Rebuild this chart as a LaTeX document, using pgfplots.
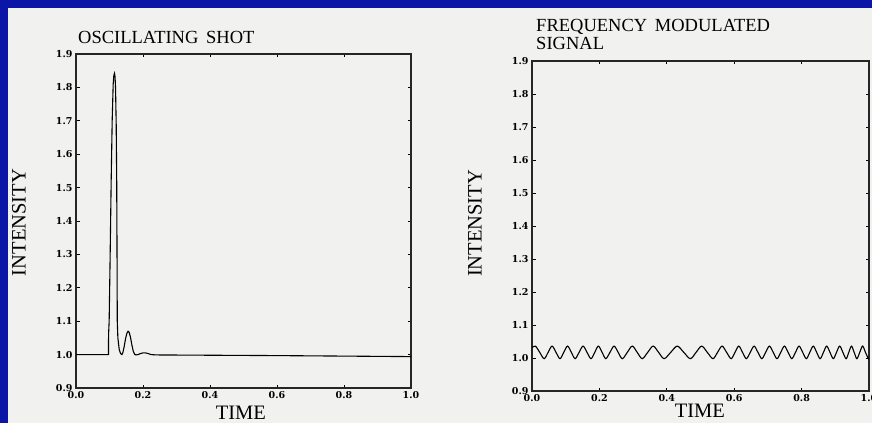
\documentclass[border=0pt]{standalone}
\usepackage{fontspec}
\setmainfont{Liberation Serif}
\newfontfamily\tickfamily{DejaVu Serif}
\usepackage{pgfplots}
\usepackage{pgfplotstable}
\pgfplotsset{compat=1.18}

\definecolor{slideblue}{RGB}{10,22,165}
\definecolor{paper}{RGB}{241,241,240}

% damped oscillating shot
\pgfplotstableread{
t I
0.0000 1.000
0.0970 1.000
0.0972 1.060
0.0990 1.100
0.1020 1.300
0.1050 1.520
0.1080 1.700
0.1110 1.810
0.1130 1.836
0.1150 1.842
0.1165 1.832
0.1180 1.800
0.1200 1.690
0.1215 1.520
0.1225 1.300
0.1232 1.100
0.1250 1.050
0.1290 1.015
0.1330 1.003
0.1370 1.000
0.1400 1.006
0.1440 1.025
0.1480 1.048
0.1520 1.064
0.1555 1.070
0.1590 1.066
0.1630 1.050
0.1670 1.028
0.1710 1.010
0.1750 1.001
0.1790 0.999
0.1850 1.000
0.1920 1.003
0.2000 1.005
0.2080 1.005
0.2160 1.003
0.2240 1.000
0.2400 0.999
0.6000 0.997
1.0000 0.994
}\shotdata

% frequency modulated signal
\pgfplotstableread{
t I
0.0000 1.031
0.0100 1.036
0.0230 1.017
0.0360 0.998
0.04775 1.017
0.0595 1.036
0.07125 1.017
0.0830 0.998
0.09425 1.017
0.1055 1.036
0.11675 1.017
0.1280 0.998
0.13975 1.017
0.1515 1.036
0.16325 1.017
0.1750 0.998
0.1860 1.017
0.1970 1.036
0.2080 1.017
0.2190 0.998
0.23125 1.017
0.2435 1.036
0.25575 1.017
0.2680 0.998
0.28275 1.017
0.2975 1.036
0.31225 1.017
0.3270 0.998
0.34325 1.017
0.3595 1.036
0.37575 1.017
0.3920 0.998
0.4115 1.017
0.4310 1.036
0.4505 1.017
0.4700 0.998
0.48675 1.017
0.5035 1.036
0.52025 1.017
0.5370 0.998
0.5505 1.017
0.5640 1.036
0.5775 1.017
0.5910 0.998
0.60225 1.017
0.6135 1.036
0.62475 1.017
0.6360 0.998
0.6475 1.017
0.6590 1.036
0.6705 1.017
0.6820 0.998
0.69325 1.017
0.7045 1.036
0.71575 1.017
0.7270 0.998
0.7380 1.017
0.7490 1.036
0.7600 1.017
0.7710 0.998
0.78175 1.017
0.7925 1.036
0.80325 1.017
0.8140 0.998
0.82425 1.017
0.8345 1.036
0.84475 1.017
0.8550 0.998
0.86475 1.017
0.8745 1.036
0.88425 1.017
0.8940 0.998
0.9035 1.017
0.9130 1.036
0.9225 1.017
0.9320 0.998
0.9400 1.017
0.9480 1.036
0.9560 1.017
0.9640 0.998
0.9725 1.017
0.9810 1.036
0.9895 1.017
0.9980 0.998
1.0000 0.9985
}\fmdata

\pgfplotsset{
  scanplot/.style={
    scale only axis,
    anchor=south west,
    clip mode=individual,
    xmin=0, xmax=1, ymin=0.9, ymax=1.9,
    xtick={0,0.2,0.4,0.6,0.8,1.0},
    ytick={0.9,1.0,1.1,1.2,1.3,1.4,1.5,1.6,1.7,1.8,1.9},
    tick align=inside,
    major tick length=3.5pt,
    axis line style={line width=1.1pt, black!85},
    every tick/.style={black, line width=0.9pt},
    tick label style={font=\tickfamily\bfseries\fontsize{9.5}{10}\selectfont, black},
    xticklabel style={/pgf/number format/fixed, /pgf/number format/fixed zerofill, /pgf/number format/precision=1},
    yticklabel style={/pgf/number format/fixed, /pgf/number format/fixed zerofill, /pgf/number format/precision=1},
    /pgf/number format/assume math mode=true,
    label style={font=\fontsize{20.5}{22}\selectfont, black, inner sep=0pt},
  }
}

\begin{document}
\begin{tikzpicture}[x=1pt,y=1pt]
\useasboundingbox (0,0) rectangle (872,423);
\clip (0,0) rectangle (872,423);
\fill[slideblue] (0,0) rectangle (872,423);
\fill[paper] (8,0) rectangle (872,415);

\begin{axis}[scanplot,
  at={(76pt,35pt)}, width=335pt, height=334pt,
  xlabel={TIME}, ylabel={INTENSITY},
  xlabel style={at={(axis description cs:0.492,-0.075)}, anchor=center},
  ylabel style={at={(axis description cs:-0.170,0.4955)}, anchor=center},
]
\addplot[black, line width=1.1pt] table[x=t, y=I] {\shotdata};
\node[anchor=base west, font=\fontsize{18.5}{20}\selectfont, inner sep=0pt]
  at (axis description cs:0.006,1.031) {OSCILLATING\, SHOT};
\end{axis}

\begin{axis}[scanplot,
  at={(532pt,32pt)}, width=337pt, height=330pt,
  xlabel={TIME}, ylabel={INTENSITY},
  xlabel style={at={(axis description cs:0.498,-0.061)}, anchor=center},
  ylabel style={at={(axis description cs:-0.169,0.508)}, anchor=center},
]
\addplot[black, line width=1.1pt, smooth, tension=0.55] table[x=t, y=I] {\fmdata};
\node[anchor=base west, font=\fontsize{18.5}{20}\selectfont, inner sep=0pt]
  at (axis description cs:0.012,1.089) {FREQUENCY\, MODULATED};
\node[anchor=base west, font=\fontsize{18.5}{20}\selectfont, inner sep=0pt]
  at (axis description cs:0.012,1.036) {SIGNAL};
\end{axis}
\end{tikzpicture}
\end{document}
